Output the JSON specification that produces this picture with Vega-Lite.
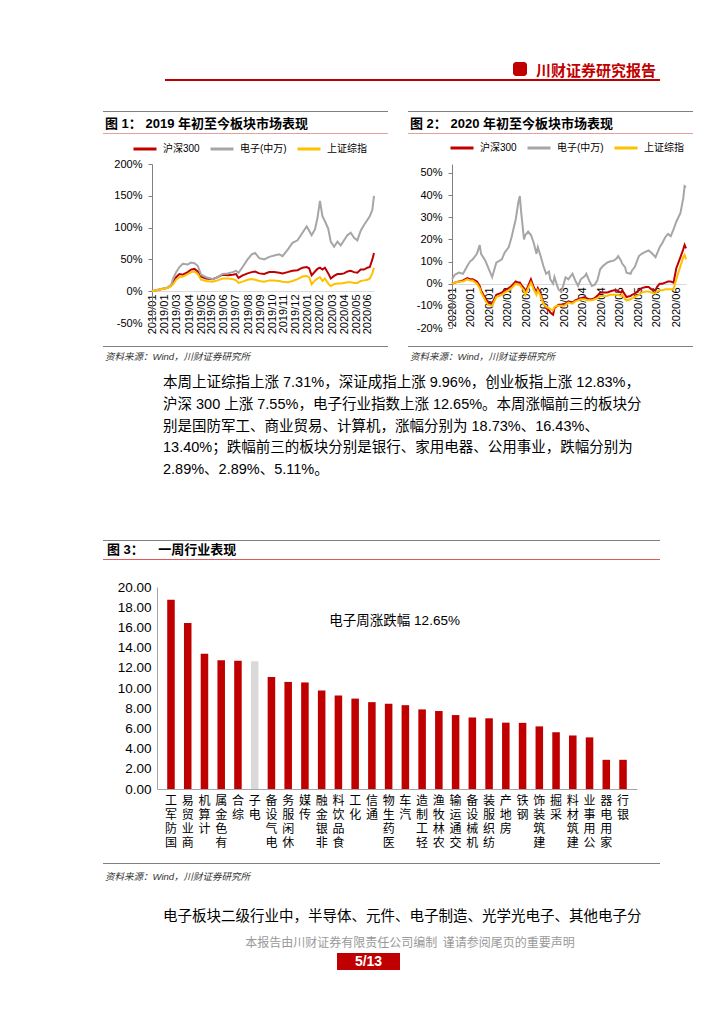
{
"$schema": "https://vega.github.io/schema/vega-lite/v6.json",
"padding": 0,
"background": "white",
"spacing": 0,
"resolve": {"scale": {"color": "independent"}, "legend": {"color": "independent"}},
"config": {
  "view": {"stroke": null},
  "font": "Liberation Sans, Noto Sans CJK SC",
  "axis": {"grid": false, "labelColor": "#000000", "labelFont": "Liberation Sans, Noto Sans CJK SC", "labelOverlap": false},
  "axisY": {"labelOverlap": false},
  "legend": {"labelFont": "Liberation Sans, Noto Sans CJK SC", "labelColor": "#000000"}
},
"datasets": {
  "fig1": [
    {"d":"2019-01-02","沪深300":0,"电子(中万)":0,"上证综指":0},
    {"d":"2019-01-20","沪深300":2.5,"电子(中万)":3,"上证综指":2.5},
    {"d":"2019-02-09","沪深300":5.5,"电子(中万)":6,"上证综指":5},
    {"d":"2019-02-17","沪深300":9,"电子(中万)":10,"上证综指":8},
    {"d":"2019-02-22","沪深300":14,"电子(中万)":20,"上证综指":11},
    {"d":"2019-03-01","沪深300":22,"电子(中万)":30,"上证综指":18},
    {"d":"2019-03-09","沪深300":27,"电子(中万)":38,"上证综指":22},
    {"d":"2019-03-17","沪深300":26,"电子(中万)":43,"上证综指":23},
    {"d":"2019-03-29","沪深300":30,"电子(中万)":42,"上证综指":27},
    {"d":"2019-04-06","沪深300":34,"电子(中万)":45,"上证综指":30},
    {"d":"2019-04-14","沪深300":35,"电子(中万)":44,"上证综指":31},
    {"d":"2019-04-22","沪深300":31,"电子(中万)":40,"上证综指":27},
    {"d":"2019-04-30","沪深300":23,"电子(中万)":26,"上证综指":18},
    {"d":"2019-05-12","沪深300":20,"电子(中万)":22,"上证综指":16},
    {"d":"2019-05-28","沪深300":19,"电子(中万)":19,"上证综指":15},
    {"d":"2019-06-09","沪深300":22,"电子(中万)":22,"上证综指":17},
    {"d":"2019-06-21","沪深300":26,"电子(中万)":27,"上证综指":20},
    {"d":"2019-07-03","沪深300":25,"电子(中万)":28,"上证综指":20},
    {"d":"2019-07-15","沪深300":26,"电子(中万)":30,"上证综指":19},
    {"d":"2019-07-23","沪深300":27,"电子(中万)":32,"上证综指":17},
    {"d":"2019-07-29","沪深300":21,"电子(中万)":29,"上证综指":13},
    {"d":"2019-08-08","沪深300":25,"电子(中万)":38,"上证综指":15},
    {"d":"2019-08-20","沪深300":28,"电子(中万)":50,"上证综指":18},
    {"d":"2019-08-30","沪深300":30,"电子(中万)":58,"上证综指":19},
    {"d":"2019-09-07","沪深300":31,"电子(中万)":60,"上证综指":18},
    {"d":"2019-09-17","沪深300":28,"电子(中万)":52,"上证综指":16},
    {"d":"2019-09-29","沪深300":27,"电子(中万)":50,"上证综指":15},
    {"d":"2019-10-11","沪深300":30,"电子(中万)":54,"上证综指":17},
    {"d":"2019-10-23","沪深300":30,"电子(中万)":56,"上证综指":17},
    {"d":"2019-11-04","沪深300":29,"电子(中万)":58,"上证综指":16},
    {"d":"2019-11-12","沪深300":28,"电子(中万)":55,"上证综指":15},
    {"d":"2019-11-24","沪深300":30,"电子(中万)":65,"上证综指":14},
    {"d":"2019-12-06","沪深300":32,"电子(中万)":76,"上证综指":16},
    {"d":"2019-12-18","沪深300":33,"电子(中万)":80,"上证综指":19},
    {"d":"2019-12-30","沪深300":37,"电子(中万)":92,"上证综指":23},
    {"d":"2020-01-09","沪深300":38,"电子(中万)":102,"上证综指":24},
    {"d":"2020-01-15","沪深300":36,"电子(中万)":95,"上证综指":22},
    {"d":"2020-01-21","沪深300":25,"电子(中万)":88,"上证综指":11},
    {"d":"2020-01-29","沪深300":31,"电子(中万)":97,"上证综指":17},
    {"d":"2020-02-04","沪深300":35,"电子(中万)":115,"上证综指":20},
    {"d":"2020-02-10","沪深300":37,"电子(中万)":142,"上证综指":22},
    {"d":"2020-02-16","沪深300":34,"电子(中万)":118,"上证综指":16},
    {"d":"2020-02-22","沪深300":37,"电子(中万)":110,"上证综指":20},
    {"d":"2020-03-01","沪深300":28,"电子(中万)":98,"上证综指":12},
    {"d":"2020-03-07","沪深300":20,"电子(中万)":78,"上证综指":8},
    {"d":"2020-03-15","沪深300":24,"电子(中万)":70,"上证综指":11},
    {"d":"2020-03-23","沪深300":27,"电子(中万)":78,"上证综指":12},
    {"d":"2020-03-31","沪深300":27,"电子(中万)":72,"上证综指":12},
    {"d":"2020-04-08","沪深300":28,"电子(中万)":80,"上证综指":13},
    {"d":"2020-04-16","沪深300":31,"电子(中万)":88,"上证综指":14},
    {"d":"2020-04-24","沪深300":32,"电子(中万)":92,"上证综指":14},
    {"d":"2020-05-02","沪深300":30,"电子(中万)":84,"上证综指":13},
    {"d":"2020-05-10","沪深300":29,"电子(中万)":80,"上证综指":13},
    {"d":"2020-05-18","沪深300":34,"电子(中万)":95,"上证综指":16},
    {"d":"2020-05-26","沪深300":34,"电子(中万)":104,"上证综指":17},
    {"d":"2020-06-03","沪深300":37,"电子(中万)":112,"上证综指":18},
    {"d":"2020-06-09","沪深300":38,"电子(中万)":118,"上证综指":20},
    {"d":"2020-06-15","沪深300":50,"电子(中万)":128,"上证综指":28},
    {"d":"2020-06-19","沪深300":60,"电子(中万)":150,"上证综指":37}
  ],
  "fig2": [
    {"d":"2020-01-02","沪深300":0,"电子(中万)":2,"上证综指":0},
    {"d":"2020-01-04","沪深300":0.5,"电子(中万)":4,"上证综指":0.5},
    {"d":"2020-01-07","沪深300":1,"电子(中万)":5,"上证综指":1},
    {"d":"2020-01-10","沪深300":1.5,"电子(中万)":4.5,"上证综指":1},
    {"d":"2020-01-13","沪深300":2.5,"电子(中万)":8,"上证综指":2},
    {"d":"2020-01-15","沪深300":2,"电子(中万)":10,"上证综指":1.5},
    {"d":"2020-01-17","沪深300":2,"电子(中万)":11,"上证综指":1.5},
    {"d":"2020-01-20","沪深300":1,"电子(中万)":13.5,"上证综指":0},
    {"d":"2020-01-22","沪深300":-1,"电子(中万)":17.5,"上证综指":-2},
    {"d":"2020-01-23","沪深300":-3,"电子(中万)":13.5,"上证综指":-4},
    {"d":"2020-01-26","沪深300":-6.5,"电子(中万)":10.5,"上证综指":-7.5},
    {"d":"2020-01-28","沪深300":-8.5,"电子(中万)":7.5,"上证综指":-9.5},
    {"d":"2020-01-31","沪深300":-9,"电子(中万)":3,"上证综指":-10},
    {"d":"2020-02-03","沪深300":-5,"电子(中万)":9.5,"上证综指":-6},
    {"d":"2020-02-07","沪深300":-4,"电子(中万)":11,"上证综指":-5},
    {"d":"2020-02-09","沪深300":-3,"电子(中万)":14,"上证综指":-4},
    {"d":"2020-02-12","沪深300":-2,"电子(中万)":16.5,"上证综指":-3},
    {"d":"2020-02-14","沪深300":-1,"电子(中万)":21,"上证综指":-2},
    {"d":"2020-02-17","沪深300":1,"电子(中万)":29,"上证综指":0},
    {"d":"2020-02-19","沪深300":0.5,"电子(中万)":37,"上证综指":-0.5},
    {"d":"2020-02-20","沪深300":0.5,"电子(中万)":39.6,"上证综指":-0.5},
    {"d":"2020-02-21","沪深300":-0.5,"电子(中万)":32,"上证综指":-1.5},
    {"d":"2020-02-23","沪深300":-2,"电子(中万)":20,"上证综指":-3},
    {"d":"2020-02-24","沪深300":-4,"电子(中万)":22,"上证综指":-5},
    {"d":"2020-02-26","沪深300":-1,"电子(中万)":23.5,"上证综指":-2},
    {"d":"2020-02-28","沪深300":2,"电子(中万)":22,"上证综指":0.5},
    {"d":"2020-03-01","沪深300":-1.5,"电子(中万)":18.5,"上证综指":-2.5},
    {"d":"2020-03-03","沪深300":-4,"电子(中万)":13.5,"上证综指":-5},
    {"d":"2020-03-04","沪深300":-2,"电子(中万)":16.5,"上证综指":-3},
    {"d":"2020-03-06","沪深300":-4.5,"电子(中万)":12.5,"上证综指":-5.5},
    {"d":"2020-03-08","沪深300":-8.5,"电子(中万)":8,"上证综指":-9},
    {"d":"2020-03-10","沪深300":-11,"电子(中万)":4.5,"上证综指":-10.5},
    {"d":"2020-03-12","沪深300":-12,"电子(中万)":5.5,"上证综指":-11},
    {"d":"2020-03-13","沪深300":-13,"电子(中万)":2,"上证综指":-11.5},
    {"d":"2020-03-15","沪深300":-14,"电子(中万)":0,"上证综指":-12},
    {"d":"2020-03-16","沪深300":-11,"电子(中万)":3,"上证综指":-10.5},
    {"d":"2020-03-18","沪深300":-10,"电子(中万)":-1,"上证综指":-10},
    {"d":"2020-03-19","沪深300":-9.5,"电子(中万)":-2.7,"上证综指":-10},
    {"d":"2020-03-21","沪深300":-9.5,"电子(中万)":-3.6,"上证综指":-10},
    {"d":"2020-03-23","沪深300":-9.5,"电子(中万)":0.6,"上证综指":-10},
    {"d":"2020-03-24","沪深300":-9,"电子(中万)":2.9,"上证综指":-9.5},
    {"d":"2020-03-26","沪深300":-8,"电子(中万)":2,"上证综指":-8.5},
    {"d":"2020-03-29","沪深300":-8.5,"电子(中万)":4.5,"上证综指":-9},
    {"d":"2020-03-31","沪深300":-7.5,"电子(中万)":1.5,"上证综指":-8},
    {"d":"2020-04-02","沪深300":-7,"电子(中万)":-1,"上证综指":-7.5},
    {"d":"2020-04-04","沪深300":-6.5,"电子(中万)":2,"上证综指":-7},
    {"d":"2020-04-07","沪深300":-6,"电子(中万)":3.5,"上证综指":-7},
    {"d":"2020-04-08","沪深300":-6.5,"电子(中万)":4.5,"上证综指":-7.5},
    {"d":"2020-04-10","沪深300":-7,"电子(中万)":1.5,"上证综指":-7.5},
    {"d":"2020-04-12","沪深300":-7,"电子(中万)":-1,"上证综指":-7.5},
    {"d":"2020-04-14","沪深300":-6.5,"电子(中万)":-0.5,"上证综指":-7},
    {"d":"2020-04-16","沪深300":-5.5,"电子(中万)":1.5,"上证综指":-6.5},
    {"d":"2020-04-18","沪深300":-4,"电子(中万)":6.5,"上证综指":-5.5},
    {"d":"2020-04-20","沪深300":-4,"电子(中万)":8,"上证综指":-5.5},
    {"d":"2020-04-23","沪深300":-4,"电子(中万)":9.5,"上证综指":-5.5},
    {"d":"2020-04-25","沪深300":-3.5,"电子(中万)":10,"上证综指":-5},
    {"d":"2020-04-28","沪深300":-3,"电子(中万)":10.5,"上证综指":-5},
    {"d":"2020-04-30","沪深300":-3,"电子(中万)":11.5,"上证综指":-5},
    {"d":"2020-05-01","沪深300":-3.5,"电子(中万)":12.5,"上证综指":-5},
    {"d":"2020-05-03","沪深300":-4,"电子(中万)":10.5,"上证综指":-5.5},
    {"d":"2020-05-04","沪深300":-3,"电子(中万)":9,"上证综指":-5},
    {"d":"2020-05-06","沪深300":-5,"电子(中万)":7.5,"上证综指":-7},
    {"d":"2020-05-07","沪深300":-6,"电子(中万)":5,"上证综指":-7.5},
    {"d":"2020-05-10","沪深300":-5.5,"电子(中万)":4.5,"上证综指":-7},
    {"d":"2020-05-11","沪深300":-5,"电子(中万)":6,"上证综指":-6.5},
    {"d":"2020-05-13","沪深300":-4.5,"电子(中万)":7.5,"上证综指":-6},
    {"d":"2020-05-16","沪深300":-3,"电子(中万)":12.5,"上证综指":-5},
    {"d":"2020-05-18","沪深300":-2,"电子(中万)":13.5,"上证综指":-4},
    {"d":"2020-05-21","沪深300":-1.5,"电子(中万)":14.5,"上证综指":-3.5},
    {"d":"2020-05-23","沪深300":-1.5,"电子(中万)":15,"上证综指":-3.5},
    {"d":"2020-05-25","沪深300":-2.5,"电子(中万)":14,"上证综指":-4},
    {"d":"2020-05-28","沪深300":-3,"电子(中万)":12,"上证综指":-4.5},
    {"d":"2020-05-29","沪深300":-1.5,"电子(中万)":13.5,"上证综指":-3.5},
    {"d":"2020-05-31","沪深300":0,"电子(中万)":16.5,"上证综指":-3},
    {"d":"2020-06-02","沪深300":0,"电子(中万)":18.5,"上证综指":-3},
    {"d":"2020-06-04","沪深300":0.5,"电子(中万)":21,"上证综指":-2.5},
    {"d":"2020-06-06","沪深300":1,"电子(中万)":22.5,"上证综指":-2.5},
    {"d":"2020-06-08","沪深300":1,"电子(中万)":21.5,"上证综指":-2.5},
    {"d":"2020-06-10","沪深300":0.5,"电子(中万)":24.5,"上证综指":-2.5},
    {"d":"2020-06-12","沪深300":7,"电子(中万)":28,"上证综指":2},
    {"d":"2020-06-15","沪深300":12,"电子(中万)":32,"上证综指":8},
    {"d":"2020-06-17","沪深300":15.5,"电子(中万)":38.5,"上证综指":12},
    {"d":"2020-06-18","沪深300":17.5,"电子(中万)":44,"上证综指":13},
    {"d":"2020-06-19","沪深300":16,"电子(中万)":43.5,"上证综指":11}
  ],
  "bars": [
    {"name":"国防军工","v":18.73},{"name":"商业贸易","v":16.43},{"name":"计算机","v":13.40},
    {"name":"有色金属","v":12.75},{"name":"综合","v":12.70},{"name":"电子","v":12.65},
    {"name":"电气设备","v":11.10},{"name":"休闲服务","v":10.60},{"name":"传媒","v":10.55},
    {"name":"非银金融","v":9.75},{"name":"食品饮料","v":9.25},{"name":"化工","v":8.95},
    {"name":"通信","v":8.60},{"name":"医药生物","v":8.45},{"name":"汽车","v":8.30},
    {"name":"轻工制造","v":7.88},{"name":"农林牧渔","v":7.72},{"name":"交通运输","v":7.32},
    {"name":"机械设备","v":7.08},{"name":"纺织服装","v":7.00},{"name":"房地产","v":6.57},
    {"name":"钢铁","v":6.55},{"name":"建筑装饰","v":6.20},{"name":"采掘","v":5.62},
    {"name":"建筑材料","v":5.30},{"name":"公用事业","v":5.11},{"name":"家用电器","v":2.89},
    {"name":"银行","v":2.89}
  ],
  "para": [
    {"line":1,"text":"本周上证综指上涨 7.31%，深证成指上涨 9.96%，创业板指上涨 12.83%，"},
    {"line":2,"text":"沪深 300 上涨 7.55%，电子行业指数上涨 12.65%。本周涨幅前三的板块分"},
    {"line":3,"text":"别是国防军工、商业贸易、计算机，涨幅分别为 18.73%、16.43%、"},
    {"line":4,"text":"13.40%；跌幅前三的板块分别是银行、家用电器、公用事业，跌幅分别为"},
    {"line":5,"text":"2.89%、2.89%、5.11%。"}
  ]
},
"vconcat": [
  {"width":724,"height":62,"data":{"values":[]},"mark":"point"},
  {"hconcat":[
    {"width":513,"height":17,"data":{"values":[]},"mark":"point"},
    {"width":14,"height":14,"data":{"values":[]},"mark":"point","view":{"fill":"#c00000","cornerRadius":3}},
    {"width":9,"height":17,"data":{"values":[]},"mark":"point"},
    {"width":124,"height":17,"data":{"values":[{"t":"川财证券研究报告"}]},
     "mark":{"type":"text","align":"left","baseline":"middle","fontSize":15,"fontWeight":"bold","color":"#c00000","font":"Noto Sans CJK SC"},
     "encoding":{"x":{"datum":0,"type":"quantitative","scale":{"domain":[0,1]},"axis":null},"y":{"field":"t","type":"nominal","axis":null},"text":{"field":"t"}}}
  ],"spacing":0,"bounds":"flush"},
  {"hconcat":[
    {"width":165,"height":2,"data":{"values":[]},"mark":"point"},
    {"width":495,"height":2,"data":{"values":[]},"mark":"point","view":{"fill":"#c00000"}}
  ],"spacing":0,"bounds":"flush"},
  {"width":724,"height":30,"data":{"values":[]},"mark":"point"},
  {"hconcat":[
    {"width":103,"height":1,"data":{"values":[]},"mark":"point"},
    {"width":285,"height":1,"data":{"values":[]},"mark":"point","view":{"fill":"#808080"}},
    {"width":20,"height":1,"data":{"values":[]},"mark":"point"},
    {"width":285,"height":1,"data":{"values":[]},"mark":"point","view":{"fill":"#808080"}}
  ],"spacing":0,"bounds":"flush"},
  {"hconcat":[
    {"width":103,"height":21,"data":{"values":[]},"mark":"point"},
    {"width":285,"height":21,"data":{"values":[{"t":"图 1：\u00a02019 年初至今板块市场表现"}]},
     "mark":{"type":"text","align":"left","baseline":"middle","fontSize":13,"fontWeight":"bold","color":"#000000","dx":2,"dy":1},
     "encoding":{"x":{"datum":0,"type":"quantitative","scale":{"domain":[0,1]},"axis":null},"y":{"field":"t","type":"nominal","axis":null},"text":{"field":"t"}}},
    {"width":20,"height":21,"data":{"values":[]},"mark":"point"},
    {"width":285,"height":21,"data":{"values":[{"t":"图 2：\u00a02020 年初至今板块市场表现"}]},
     "mark":{"type":"text","align":"left","baseline":"middle","fontSize":13,"fontWeight":"bold","color":"#000000","dx":2,"dy":1},
     "encoding":{"x":{"datum":0,"type":"quantitative","scale":{"domain":[0,1]},"axis":null},"y":{"field":"t","type":"nominal","axis":null},"text":{"field":"t"}}}
  ],"spacing":0,"bounds":"flush"},
  {"hconcat":[
    {"width":103,"height":1,"data":{"values":[]},"mark":"point"},
    {"width":285,"height":1,"data":{"values":[]},"mark":"point","view":{"fill":"#e6a0a0"}},
    {"width":20,"height":1,"data":{"values":[]},"mark":"point"},
    {"width":285,"height":1,"data":{"values":[]},"mark":"point","view":{"fill":"#e6a0a0"}}
  ],"spacing":0,"bounds":"flush"},
  {"hconcat":[
    {"width":103,"height":23.5,"data":{"values":[]},"mark":"point"},
    {"width":285,"height":23.5,"data":{"values":[]},"mark":"line",
     "encoding":{"color":{"field":"series","type":"nominal",
       "scale":{"domain":["沪深300","电子(中万)","上证综指"],"range":["#c00000","#a6a6a6","#ffc000"]},
       "legend":{"orient":"none","legendX":29,"legendY":2,"direction":"horizontal","title":null,"symbolType":"stroke","symbolStrokeWidth":3,"symbolSize":529,"labelFontSize":10,"columnPadding":4,"labelOffset":5}}}},
    {"width":20,"height":23.5,"data":{"values":[]},"mark":"point"},
    {"width":285,"height":23.5,"data":{"values":[]},"mark":"line",
     "encoding":{"color":{"field":"series","type":"nominal",
       "scale":{"domain":["沪深300","电子(中万)","上证综指"],"range":["#c00000","#a6a6a6","#ffc000"]},
       "legend":{"orient":"none","legendX":41,"legendY":1,"direction":"horizontal","title":null,"symbolType":"stroke","symbolStrokeWidth":3,"symbolSize":529,"labelFontSize":10,"columnPadding":4,"labelOffset":5}}}}
  ],"spacing":0,"bounds":"flush","resolve":{"scale":{"color":"independent"},"legend":{"color":"independent"}}},
  {"hconcat":[
    {"width":152,"height":175,"data":{"values":[]},"mark":"point"},
    {"width":222,"height":159,"data":{"name":"fig1"},
     "transform":[{"fold":["沪深300","电子(中万)","上证综指"],"as":["series","value"]}],
     "mark":{"type":"line","strokeWidth":2},
     "encoding":{
       "x":{"field":"d","type":"temporal","scale":{"type":"utc","nice":false},
            "axis":{"title":null,"offset":-32,"labelAngle":-90,"ticks":false,"domainColor":"#d9d9d9","labelFontSize":11,"labelPadding":3,"labelOverlap":false,"labelFlush":false,
                    "labelExpr":"utcFormat(datum.value, '%Y/%m')",
                    "values":[
                      {"year":2019,"month":1,"date":2,"utc":true},{"year":2019,"month":1,"date":31,"utc":true},
                      {"year":2019,"month":3,"date":1,"utc":true},{"year":2019,"month":4,"date":1,"utc":true},
                      {"year":2019,"month":5,"date":1,"utc":true},{"year":2019,"month":5,"date":26,"utc":true},
                      {"year":2019,"month":6,"date":24,"utc":true},{"year":2019,"month":7,"date":23,"utc":true},
                      {"year":2019,"month":8,"date":21,"utc":true},{"year":2019,"month":9,"date":19,"utc":true},
                      {"year":2019,"month":10,"date":18,"utc":true},{"year":2019,"month":11,"date":15,"utc":true},
                      {"year":2019,"month":12,"date":14,"utc":true},{"year":2020,"month":1,"date":12,"utc":true},
                      {"year":2020,"month":2,"date":10,"utc":true},{"year":2020,"month":3,"date":10,"utc":true},
                      {"year":2020,"month":4,"date":8,"utc":true},{"year":2020,"month":5,"date":7,"utc":true},
                      {"year":2020,"month":6,"date":4,"utc":true}]}},
       "y":{"field":"value","type":"quantitative","scale":{"domain":[-50,200],"nice":false},
            "axis":{"title":null,"values":[-50,0,50,100,150,200],"labelExpr":"datum.value + '%'","domainColor":"#808080","tickColor":"#808080","tickSize":4,"labelFontSize":11,"labelPadding":6}},
       "color":{"field":"series","type":"nominal",
                "scale":{"domain":["沪深300","电子(中万)","上证综指"],"range":["#c00000","#a6a6a6","#ffc000"]},
                "legend":null}
     }},
    {"width":78,"height":175,"data":{"values":[]},"mark":"point"},
    {"width":234,"height":164,"data":{"name":"fig2"},
     "transform":[{"fold":["沪深300","电子(中万)","上证综指"],"as":["series","value"]}],
     "mark":{"type":"line","strokeWidth":2},
     "encoding":{
       "x":{"field":"d","type":"temporal","scale":{"type":"utc","nice":false},
            "axis":{"title":null,"offset":-44,"labelAngle":-90,"ticks":false,"domainColor":"#d9d9d9","labelFontSize":11,"labelPadding":3,"labelOverlap":false,"labelFlush":false,
                    "labelExpr":"utcFormat(datum.value, '%m%d') == '0225' ? '2020/03' : (utcFormat(datum.value, '%m%d') == '0529' ? '2020/06' : utcFormat(datum.value, '%Y/%m'))",
                    "values":[
                      {"year":2020,"month":1,"date":2,"utc":true},{"year":2020,"month":1,"date":15,"utc":true},
                      {"year":2020,"month":1,"date":29,"utc":true},{"year":2020,"month":2,"date":11,"utc":true},
                      {"year":2020,"month":2,"date":25,"utc":true},{"year":2020,"month":3,"date":9,"utc":true},
                      {"year":2020,"month":3,"date":23,"utc":true},{"year":2020,"month":4,"date":5,"utc":true},
                      {"year":2020,"month":4,"date":19,"utc":true},{"year":2020,"month":5,"date":2,"utc":true},
                      {"year":2020,"month":5,"date":16,"utc":true},{"year":2020,"month":5,"date":29,"utc":true},
                      {"year":2020,"month":6,"date":12,"utc":true}]}},
       "y":{"field":"value","type":"quantitative","scale":{"domain":[-20,54.06],"nice":false},
            "axis":{"title":null,"values":[-20,-10,0,10,20,30,40,50],"labelExpr":"datum.value + '%'","domainColor":"#808080","tickColor":"#808080","tickSize":4,"labelFontSize":11,"labelPadding":6}},
       "color":{"field":"series","type":"nominal",
                "scale":{"domain":["沪深300","电子(中万)","上证综指"],"range":["#c00000","#a6a6a6","#ffc000"]},
                "legend":null}
     }}
  ],"spacing":0,"bounds":"flush","resolve":{"scale":{"color":"independent"},"legend":{"color":"independent"}}},
  {"width":724,"height":7,"data":{"values":[]},"mark":"point"},
  {"hconcat":[
    {"width":103,"height":1,"data":{"values":[]},"mark":"point"},
    {"width":285,"height":1,"data":{"values":[]},"mark":"point","view":{"fill":"#808080"}},
    {"width":20,"height":1,"data":{"values":[]},"mark":"point"},
    {"width":285,"height":1,"data":{"values":[]},"mark":"point","view":{"fill":"#808080"}}
  ],"spacing":0,"bounds":"flush"},
  {"hconcat":[
    {"width":103,"height":20,"data":{"values":[]},"mark":"point"},
    {"width":285,"height":20,"data":{"values":[{"t":"资料来源：Wind，川财证券研究所"}]},
     "mark":{"type":"text","align":"left","baseline":"middle","fontSize":9.5,"fontStyle":"italic","color":"#333333","dx":2},
     "encoding":{"x":{"datum":0,"type":"quantitative","scale":{"domain":[0,1]},"axis":null},"y":{"field":"t","type":"nominal","axis":null},"text":{"field":"t"}}},
    {"width":20,"height":20,"data":{"values":[]},"mark":"point"},
    {"width":285,"height":20,"data":{"values":[{"t":"资料来源：Wind，川财证券研究所"}]},
     "mark":{"type":"text","align":"left","baseline":"middle","fontSize":9.5,"fontStyle":"italic","color":"#333333","dx":2},
     "encoding":{"x":{"datum":0,"type":"quantitative","scale":{"domain":[0,1]},"axis":null},"y":{"field":"t","type":"nominal","axis":null},"text":{"field":"t"}}}
  ],"spacing":0,"bounds":"flush"},
  {"width":724,"height":5,"data":{"values":[]},"mark":"point"},
  {"hconcat":[
    {"width":163,"height":109,"data":{"values":[]},"mark":"point"},
    {"width":500,"height":109,"data":{"name":"para"},
     "mark":{"type":"text","align":"left","baseline":"middle","fontSize":14.5,"color":"#000000"},
     "encoding":{"x":{"datum":0,"type":"quantitative","scale":{"domain":[0,1]},"axis":null},"y":{"field":"line","type":"ordinal","axis":null},"text":{"field":"text"}}}
  ],"spacing":0,"bounds":"flush"},
  {"width":724,"height":59,"data":{"values":[]},"mark":"point"},
  {"hconcat":[
    {"width":103,"height":1,"data":{"values":[]},"mark":"point"},
    {"width":557,"height":1,"data":{"values":[]},"mark":"point","view":{"fill":"#808080"}}
  ],"spacing":0,"bounds":"flush"},
  {"hconcat":[
    {"width":103,"height":18,"data":{"values":[]},"mark":"point"},
    {"width":557,"height":18,"data":{"values":[{"t":"图 3：\u00a0\u00a0\u00a0\u00a0一周行业表现"}]},
     "mark":{"type":"text","align":"left","baseline":"middle","fontSize":13,"fontWeight":"bold","color":"#000000","dx":4},
     "encoding":{"x":{"datum":0,"type":"quantitative","scale":{"domain":[0,1]},"axis":null},"y":{"field":"t","type":"nominal","axis":null},"text":{"field":"t"}}}
  ],"spacing":0,"bounds":"flush"},
  {"hconcat":[
    {"width":103,"height":1,"data":{"values":[]},"mark":"point"},
    {"width":557,"height":1,"data":{"values":[]},"mark":"point","view":{"fill":"#e05a5a"}}
  ],"spacing":0,"bounds":"flush"},
  {"width":724,"height":19.5,"data":{"values":[]},"mark":"point"},
  {"hconcat":[
    {"width":157,"height":276,"data":{"values":[]},"mark":"point"},
    {"width":480,"height":202,
     "encoding":{
       "y":{"field":"v","type":"quantitative","scale":{"domain":[0,20],"nice":false},
            "axis":{"title":null,"values":[0,2,4,6,8,10,12,14,16,18,20],"format":".2f","ticks":false,"domainColor":"#a6a6a6","labelFontSize":13.5,"labelPadding":6,"labelOverlap":false}}
     },
     "layer":[
       {"data":{"name":"bars"},
        "mark":{"type":"bar"},
        "encoding":{
          "x":{"field":"name","type":"nominal","sort":null,"scale":{"paddingInner":0.55,"paddingOuter":0.61},
               "axis":{"title":null,"labelExpr":"reverse(split(datum.label, ''))","labelAngle":0,"labelAlign":"center","labelBaseline":"top","labelFontSize":12,"labelLineHeight":14,"labelPadding":6,"ticks":false,"domainColor":"#a6a6a6","labelOverlap":false,"labelFont":"Liberation Sans, Noto Sans CJK SC","labelLimit":0}},
          "color":{"condition":{"test":"datum.name === '电子'","value":"#d9d9d9"},"value":"#c00000"}
        }},
       {"data":{"values":[{"note":"电子周涨跌幅 12.65%","at":16.6}]},
        "mark":{"type":"text","fontSize":13.5,"color":"#000000","dx":6},
        "encoding":{
          "x":{"datum":"医药生物","type":"nominal"},
          "y":{"field":"at","type":"quantitative"},
          "text":{"field":"note"}
        }}
     ]}
  ],"spacing":0,"bounds":"flush"},
  {"hconcat":[
    {"width":103,"height":1,"data":{"values":[]},"mark":"point"},
    {"width":557,"height":1,"data":{"values":[]},"mark":"point","view":{"fill":"#808080"}}
  ],"spacing":0,"bounds":"flush"},
  {"hconcat":[
    {"width":103,"height":20,"data":{"values":[]},"mark":"point"},
    {"width":557,"height":20,"data":{"values":[{"t":"资料来源：Wind，川财证券研究所"}]},
     "mark":{"type":"text","align":"left","baseline":"middle","fontSize":9.5,"fontStyle":"italic","color":"#333333","dx":2,"dy":3},
     "encoding":{"x":{"datum":0,"type":"quantitative","scale":{"domain":[0,1]},"axis":null},"y":{"field":"t","type":"nominal","axis":null},"text":{"field":"t"}}}
  ],"spacing":0,"bounds":"flush"},
  {"width":724,"height":22,"data":{"values":[]},"mark":"point"},
  {"hconcat":[
    {"width":163,"height":22,"data":{"values":[]},"mark":"point"},
    {"width":500,"height":22,"data":{"values":[{"line":1,"text":"电子板块二级行业中，半导体、元件、电子制造、光学光电子、其他电子分"}]},
     "mark":{"type":"text","align":"left","baseline":"middle","fontSize":14.5,"color":"#000000"},
     "encoding":{"x":{"datum":0,"type":"quantitative","scale":{"domain":[0,1]},"axis":null},"y":{"field":"line","type":"ordinal","axis":null},"text":{"field":"text"}}}
  ],"spacing":0,"bounds":"flush"},
  {"width":724,"height":8,"data":{"values":[]},"mark":"point"},
  {"hconcat":[
    {"width":90,"height":14,"data":{"values":[]},"mark":"point"},
    {"width":640,"height":14,"data":{"values":[{"t":"本报告由川财证券有限责任公司编制\u00a0\u00a0谨请参阅尾页的重要声明"}]},
     "mark":{"type":"text","fontSize":12,"color":"#999999","font":"Noto Sans CJK SC"},
     "encoding":{"x":{"field":"t","type":"nominal","axis":null},"y":{"field":"t","type":"nominal","axis":null},"text":{"field":"t"}}}
  ],"spacing":0,"bounds":"flush"},
  {"width":724,"height":3,"data":{"values":[]},"mark":"point"},
  {"hconcat":[
    {"width":337,"height":17,"data":{"values":[]},"mark":"point"},
    {"width":63,"height":17,"data":{"values":[{"page":"5/13"}]},"view":{"fill":"#c00000"},
     "mark":{"type":"text","fontSize":14,"fontWeight":"bold","color":"#ffffff"},
     "encoding":{"x":{"field":"page","type":"nominal","axis":null},"y":{"field":"page","type":"nominal","axis":null},"text":{"field":"page"}}}
  ],"spacing":0,"bounds":"flush"}
]
}
